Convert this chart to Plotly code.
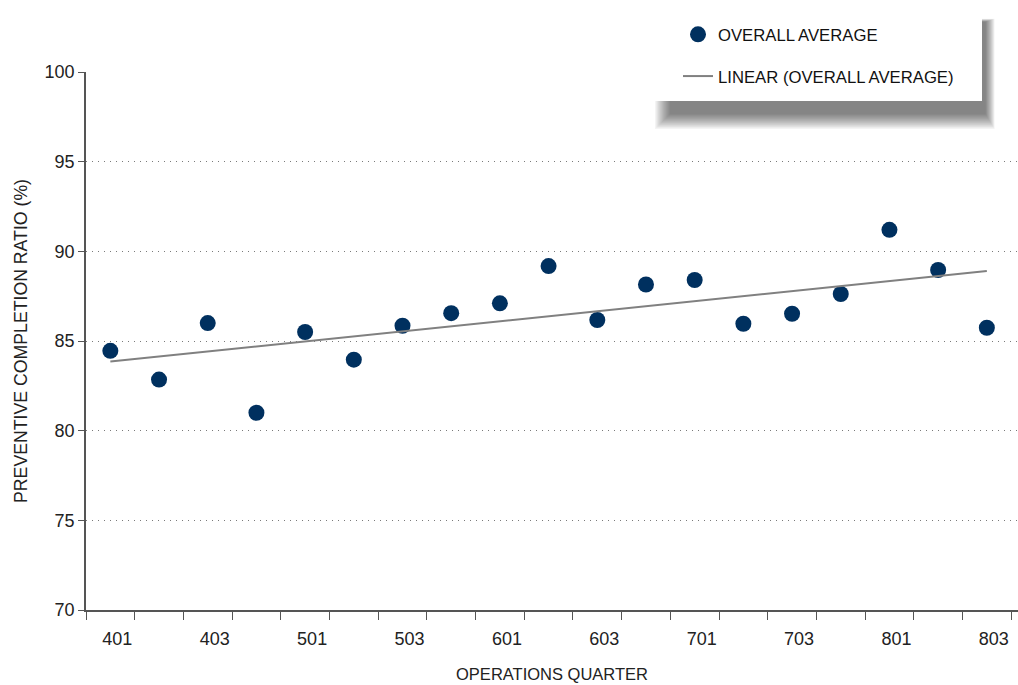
import numpy as np
import plotly.graph_objects as go

quarters = ["401", "402", "403", "404", "501", "502", "503", "504", "601", "602",
            "603", "604", "701", "702", "703", "704", "801", "802", "803"]
overall_average = [84.45, 82.85, 86.0, 81.0, 85.5, 83.96, 85.85, 86.55, 87.1, 89.18,
                   86.17, 88.15, 88.4, 85.96, 86.52, 87.62, 91.2, 88.96, 85.74]
tick_labels = [q if i % 2 == 0 else "" for i, q in enumerate(quarters)]

# linear trend line (least squares) of the overall average
idx = np.arange(len(overall_average))
slope, intercept = np.polyfit(idx, overall_average, 1)
trend = list(slope * idx + intercept)

FONT = "Liberation Sans, Arial, sans-serif"
NAVY = "#00305f"
GREY = "#808080"

fig = go.Figure()
fig.add_trace(go.Scatter(
    x=quarters, y=overall_average, mode="markers", name="OVERALL AVERAGE",
    marker=dict(color=NAVY, size=16), legendgroup="a"))
fig.add_trace(go.Scatter(
    x=quarters, y=trend, mode="lines", name="LINEAR (OVERALL AVERAGE)",
    line=dict(color=GREY, width=2), legendgroup="b"))

# legend box with soft shadow (paper coordinates)
shapes = []
W, H = 1018, 685
L, R, T, B = 86, 1018, 72, 610
def px(x):
    return (x - L) / (R - L)
def py(y):
    return (B - y) / (B - T)
bx0, bx1, by0, by1 = 655, 982, 8, 101
n = 14
for k in range(n):
    e = 16 * (1 - k / n)
    shapes.append(dict(type="rect", xref="paper", yref="paper",
                       x0=px(bx0 + 16 - e), x1=px(bx1 + 3 + e * 0.6),
                       y0=py(by1 + 12 + e), y1=py(by0 + 14 - e * 0.2),
                       fillcolor="black", opacity=0.045, line=dict(width=0), layer="above"))
shapes.append(dict(type="rect", xref="paper", yref="paper",
                   x0=px(bx0), x1=px(bx1), y0=py(by1), y1=py(by0),
                   fillcolor="white", line=dict(width=0), layer="above"))

fig.update_layout(
    width=W, height=H,
    margin=dict(l=L, r=W - R, t=T, b=H - B, autoexpand=False),
    paper_bgcolor="white", plot_bgcolor="white",
    font=dict(family=FONT, size=18, color="#222222"),
    showlegend=True,
    legend=dict(x=px(678), y=py(17), xanchor="left", yanchor="top",
                bgcolor="rgba(0,0,0,0)", font=dict(size=16.7, color="#111111"),
                tracegroupgap=17, itemwidth=30),
    shapes=shapes,
    xaxis=dict(
        type="category", range=[-0.5, 18.64],
        tickmode="array", tickvals=quarters, ticktext=tick_labels,
        tickson="boundaries", ticks="outside", ticklen=8, tickwidth=1.3,
        tickcolor="#555555", showline=True, linecolor="#555555", linewidth=1.5,
        showgrid=False, zeroline=False, ticklabelshift=7, ticklabelstandoff=12,
        tickfont=dict(size=18),
        title=dict(text="OPERATIONS QUARTER", font=dict(size=16.5), standoff=20),
    ),
    yaxis=dict(
        range=[70, 100], dtick=5, tick0=70,
        ticks="outside", ticklen=6, tickwidth=1.3, tickcolor="#555555",
        showline=True, linecolor="#555555", linewidth=1.5,
        showgrid=True, gridcolor="#7a7a7a", griddash="1px,5px", gridwidth=1,
        zeroline=False, tickfont=dict(size=18),
        title=dict(text="PREVENTIVE COMPLETION RATIO (%)", font=dict(size=17.7), standoff=12),
    ),
)

fig.write_html("out.html", config={"displayModeBar": False},
               post_script="document.body.style.margin='0';")
